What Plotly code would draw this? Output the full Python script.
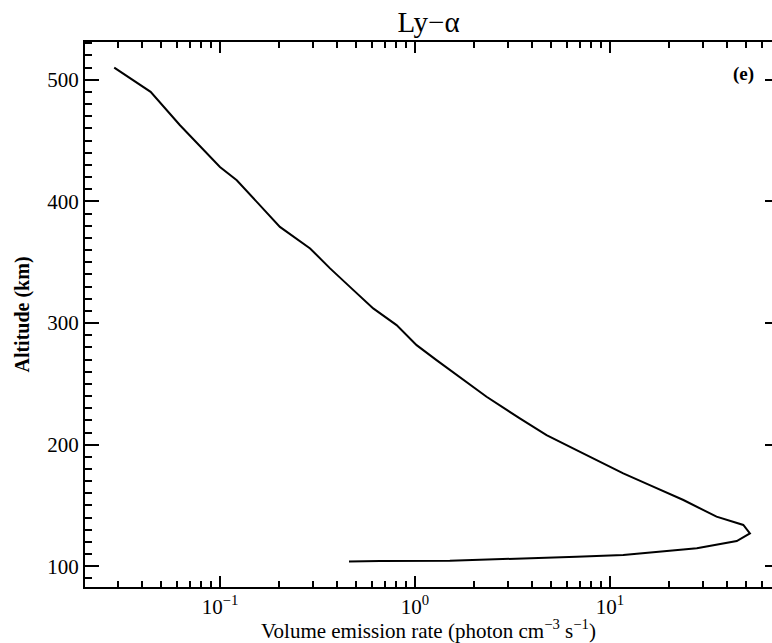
import plotly.graph_objects as go

# Volume emission rate (photon cm^-3 s^-1) and altitude (km)
rate = [0.0287, 0.0441, 0.0624, 0.100, 0.122, 0.203, 0.290, 0.367, 0.464, 0.611,
        0.805, 1.02, 1.29, 1.77, 2.33, 3.45, 4.73, 6.74, 11.7, 16.0,
        23.8, 35.2, 48.3, 52.2, 44.7, 27.9, 16.0, 11.7, 6.74, 3.59,
        1.51, 0.662, 0.459]
altitude = [510, 490, 462.6, 428.3, 417.4, 379, 361.3, 344.9, 329.7, 312,
            298.3, 281.8, 269.5, 253, 239.4, 221.6, 207.9, 195.6, 176.4, 166.8,
            154.5, 140.8, 134, 127.1, 120.8, 114.8, 111.2, 109.3, 107.9, 106.6,
            104.6, 104.4, 104]

x_tickvals = [0.1, 1, 10]
x_ticktext = ["10<sup>−1</sup>", "10<sup>0</sup>", "10<sup>1</sup>"]
x_minor = [m * 10.0 ** e for e in (-2, -1, 0, 1) for m in range(2, 10)]
y_tickvals = [100, 200, 300, 400, 500]

title_text = "Ly−α"
xlabel = "Volume emission rate (photon cm<sup>−3</sup> s<sup>−1</sup>)"
ylabel = "<b>Altitude (km)</b>"
panel_label = "<b>(e)</b>"

FONT = "Liberation Serif"
x_range = [-1.692, 1.831]
y_range = [83, 531]

fig = go.Figure()
fig.add_trace(go.Scatter(x=rate, y=altitude, mode="lines",
                         line=dict(color="black", width=2), showlegend=False,
                         hoverinfo="skip"))
fig.add_trace(go.Scatter(x=rate, y=altitude, mode="lines", yaxis="y2",
                         line=dict(color="rgba(0,0,0,0)", width=0), showlegend=False,
                         hoverinfo="skip"))

fig.update_layout(
    width=772, height=643,
    margin=dict(l=85, r=0, t=42, b=56),
    paper_bgcolor="white", plot_bgcolor="white",
    font=dict(family=FONT, color="black", size=21),
    title=dict(text=title_text, x=0.5, xref="paper", xanchor="center",
               y=1 - 22 / 643, yanchor="middle",
               font=dict(family=FONT, size=29, color="black")),
    xaxis=dict(type="log", range=x_range, tickmode="array",
               tickvals=x_tickvals, ticktext=x_ticktext,
               ticks="inside", ticklen=11, tickwidth=1.5, tickcolor="black",
               showline=True, linecolor="black", linewidth=2, mirror="ticks",
               showgrid=False, zeroline=False,
               tickfont=dict(family=FONT, size=21, color="black"),
               minor=dict(tickmode="array", tickvals=x_minor, ticks="inside",
                          ticklen=6, tickwidth=1.5, tickcolor="black", showgrid=False),
               title=dict(text=xlabel, font=dict(family=FONT, size=21, color="black"),
                          standoff=2)),
    yaxis=dict(range=y_range, tickmode="array", tickvals=y_tickvals,
               ticks="inside", ticklen=14, tickwidth=1.5, tickcolor="black",
               showline=True, linecolor="black", linewidth=2, mirror=False,
               showgrid=False, zeroline=False,
               tickfont=dict(family=FONT, size=21, color="black"),
               minor=dict(tick0=0, dtick=10, ticks="inside", ticklen=7,
                          tickwidth=1.5, tickcolor="black", showgrid=False),
               title=dict(text=ylabel, font=dict(family=FONT, size=20, color="black"),
                          standoff=12)),
    yaxis2=dict(range=y_range, overlaying="y", side="right", anchor="x",
                tickmode="array", tickvals=y_tickvals, showticklabels=False,
                ticks="inside", ticklen=7, tickwidth=1.5, tickcolor="black",
                showline=False, showgrid=False, zeroline=False),
    annotations=[dict(text=panel_label, xref="paper", yref="paper",
                      x=0.958, y=0.941, xanchor="center", yanchor="middle",
                      showarrow=False, font=dict(family=FONT, size=19, color="black"))],
)

fig.write_html("out.html")
